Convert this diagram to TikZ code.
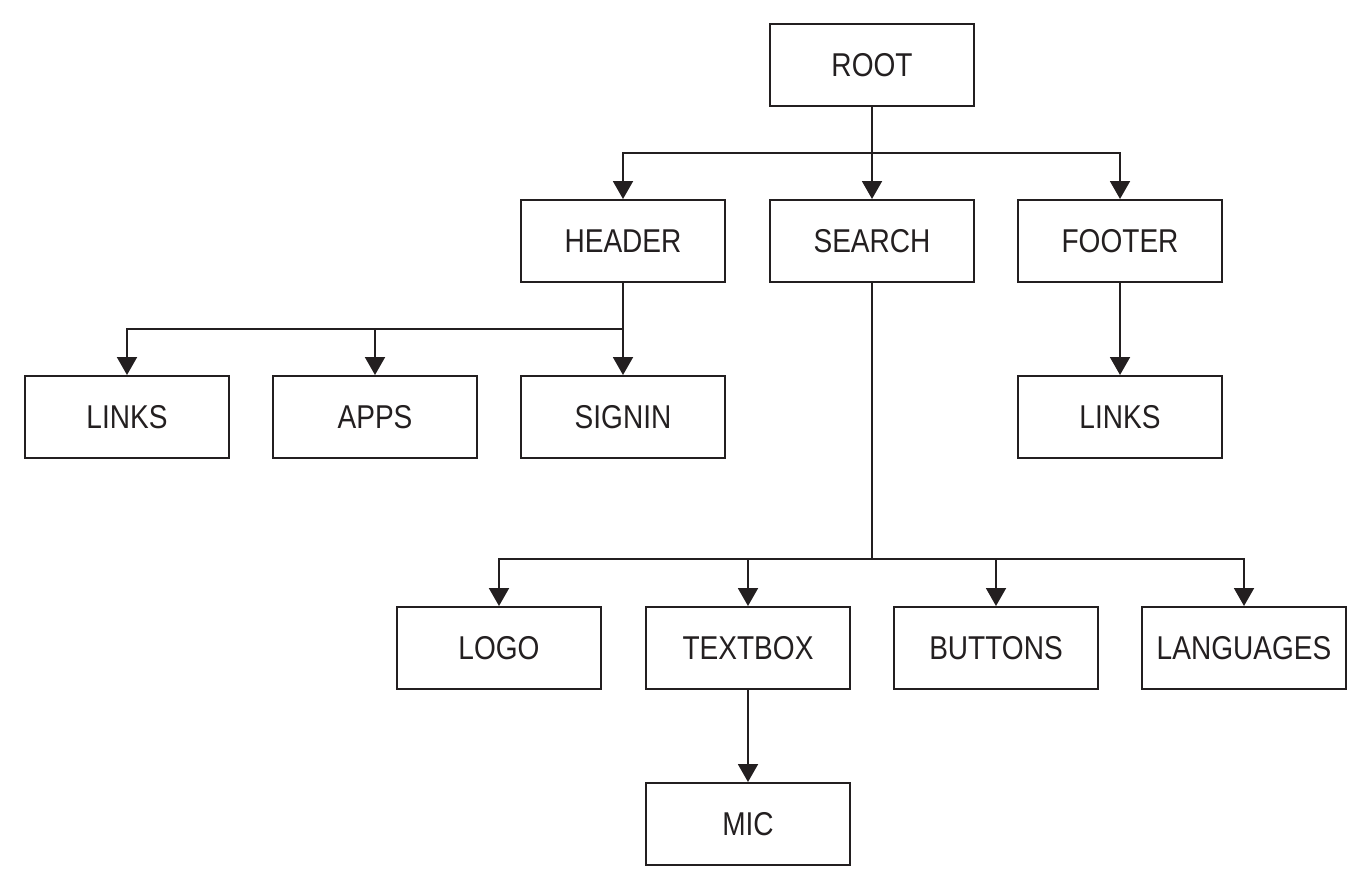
\documentclass[tikz,border=0pt]{standalone}
\usepackage{fontspec}
\setmainfont{Liberation Sans}[FakeStretch=0.85]
\usetikzlibrary{arrows.meta}
\definecolor{ink}{HTML}{231F20}
\begin{document}
\begin{tikzpicture}[x=1pt,y=-1pt,
  box/.style={draw=ink,line width=2pt,minimum width=204pt,minimum height=82pt,inner sep=0pt,text=ink,font=\fontsize{33}{36}\selectfont},
  conn/.style={draw=ink,line width=2pt},
  arr/.style={conn,-{Triangle[width=20pt,length=18pt]}}]
\useasboundingbox (0,0) rectangle (1370,891);
\node[box] (root) at (872,65) {ROOT};
\node[box] (header) at (623,241) {HEADER};
\node[box] (search) at (872,241) {SEARCH};
\node[box] (footer) at (1120,241) {FOOTER};
\node[box] (links) at (127,417) {LINKS};
\node[box] (apps) at (375,417) {APPS};
\node[box] (signin) at (623,417) {SIGNIN};
\node[box] (links2) at (1120,417) {LINKS};
\node[box] (logo) at (499,648) {LOGO};
\node[box] (textbox) at (748,648) {TEXTBOX};
\node[box] (buttons) at (996,648) {BUTTONS};
\node[box] (languages) at (1244,648) {LANGUAGES};
\node[box] (mic) at (748,824) {MIC};
\coordinate (rb) at (872,153);
\coordinate (hb) at (623,329);
\coordinate (sb) at (872,559);
% root
\draw[arr] (root.south) -- (search.north);
\draw[arr] (rb) -| (header.north);
\draw[arr] (rb) -| (footer.north);
% header
\draw[arr] (header.south) -- (signin.north);
\draw[arr] (hb) -| (links.north);
\draw[arr] (hb) -| (apps.north);
% search
\draw[conn] (search.south) -- (sb);
\draw[arr] (sb) -| (logo.north);
\draw[arr] (sb) -| (textbox.north);
\draw[arr] (sb) -| (buttons.north);
\draw[arr] (sb) -| (languages.north);
% footer, textbox
\draw[arr] (footer.south) -- (links2.north);
\draw[arr] (textbox.south) -- (mic.north);
\end{tikzpicture}
\end{document}
